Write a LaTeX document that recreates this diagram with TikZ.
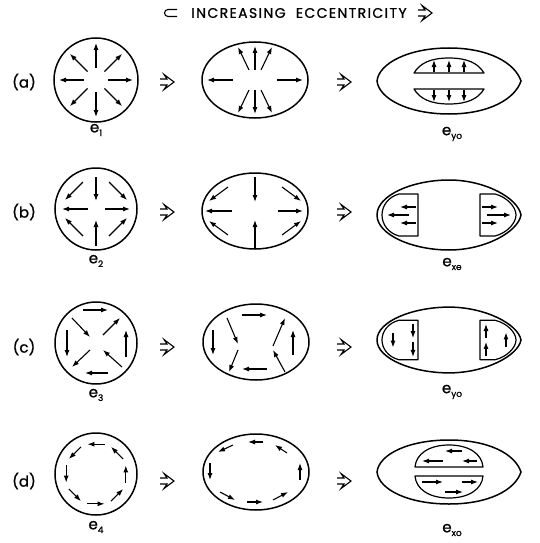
\documentclass[tikz,border=0pt]{standalone}
\usepackage{fontspec}
\setmainfont{Poppins}[FakeBold=1]
\usepackage{tikz}
\usetikzlibrary{arrows.meta}
\newcommand{\esub}[1]{e\raisebox{-0.45ex}{\fontsize{9}{9}\selectfont #1}}
\newcommand{\eggshell}{(-72,0) .. controls (-72,20) and (-36,35) .. (0,35) .. controls (36,35) and (69,17) .. (72,0) .. controls (69,-17) and (36,-35) .. (0,-35) .. controls (-36,-35) and (-72,-20) .. (-72,0) -- cycle}
\newcommand{\lensshell}[1]{(-72,0) .. controls (-70,18) and (-40,#1) .. (0,#1) .. controls (40,#1) and (66,18) .. (72,0) .. controls (66,-18) and (40,-#1) .. (0,-#1) .. controls (-40,-#1) and (-70,-18) .. (-72,0) -- cycle}
\newcommand{\eggpockets}{%
  \draw[pocket] (-31,21) -- (-50,21) .. controls (-61,18) and (-67,9) .. (-67,0) .. controls (-67,-9) and (-61,-18) .. (-50,-21) -- (-31,-21) -- cycle;
  \draw[pocket] (31,21) -- (46,21) .. controls (58,18) and (67,8) .. (67,0) .. controls (67,-8) and (58,-18) .. (46,-21) -- (31,-21) -- cycle;}

\begin{document}
\begin{tikzpicture}[
    x=1pt, y=1pt,
    shell/.style={line width=1.5pt},
    pocket/.style={line width=1.2pt, line join=round},
    flow/.style={line width=1.1pt, -{Latex[length=7pt,width=5pt]}},
    tag/.style={font=\fontsize{15}{15}\selectfont},
    mode/.style={font=\fontsize{15}{15}\selectfont},
    harrow/.pic={\draw[line width=1.1pt, line join=miter] (-7,3) -- (0,3) -- (-3,7.5) -- (7,0) -- (-3,-7.5) -- (0,-3) -- (-7,-3);}
]
\useasboundingbox (0,0) rectangle (539,-543);

% heading
\draw[line width=1.1pt] (177,-9.5) -- (168,-9.5) arc (90:270:3.5) -- (177,-16.5);
\node[font=\fontsize{14}{14}\selectfont\addfontfeatures{LetterSpace=10}] (title) at (299,-13) {INCREASING\ \ ECCENTRICITY};
\pic at (425,-13) {harrow};

% row tags and transition arrows
\node[tag] (taga) at (24,-82) {(a)};
\node[tag] (tagb) at (24,-212) {(b)};
\node[tag] (tagc) at (24,-347) {(c)};
\node[tag] (tagd) at (24,-481) {(d)};
\foreach \y in {-82,-212,-347,-481} {
    \pic at (167,\y) {harrow};
    \pic at (344,\y) {harrow};
}

% mode names
\node[mode] (e1) at (96,-130) {\esub{1}};
\node[mode] (e2) at (96,-261) {\esub{2}};
\node[mode] (e3) at (96,-395) {\esub{3}};
\node[mode] (e4) at (96,-527) {\esub{4}};
\node[mode] (eyoa) at (452,-134) {\esub{yo}};
\node[mode] (exe) at (452,-264) {\esub{xe}};
\node[mode] (eyoc) at (452,-392) {\esub{yo}};
\node[mode] (exo) at (452,-530) {\esub{xo}};

% (a)
\begin{scope}[shift={(96,-80)}]
    \draw[shell] (0,0) circle (42);
    \foreach \a in {0,45,...,315} \draw[flow] (\a:12) -- (\a:37);
\end{scope}
\begin{scope}[shift={(255,-80)}]
    \draw[shell] (0,0) ellipse (53 and 38);
    \draw[flow] (-22,0) -- (-48,0);
    \draw[flow] (22,0) -- (48,0);
    \foreach \s in {-1,1} {
        \draw[flow] (0,10*\s) -- (0,34*\s);
        \draw[flow] (-6,10*\s) -- (-17,33*\s);
        \draw[flow] (6,10*\s) -- (17,33*\s);
    }
\end{scope}
\begin{scope}[shift={(449,-81)}]
    \draw[shell] \lensshell{33};
    \draw[pocket] (-35,8) .. controls (-29,18) and (-18,23) .. (0,23) .. controls (18,23) and (29,18) .. (35,8) -- cycle;
    \draw[pocket] (-35,-8) .. controls (-29,-18) and (-18,-23) .. (0,-23) .. controls (18,-23) and (29,-18) .. (35,-8) -- cycle;
    \foreach \x in {-15,0,15} {
        \draw[flow] (\x,9) -- (\x,21);
        \draw[flow] (\x,-9) -- (\x,-21);
    }
\end{scope}

% (b)
\begin{scope}[shift={(96,-209)}]
    \draw[shell] (0,0) circle (41);
    \draw[flow] (0,32) -- (0,8);
    \draw[flow] (0,-37) -- (0,-11);
    \draw[flow] (-8,0) -- (-34,0);
    \draw[flow] (9,0) -- (34,0);
    \foreach \sx in {-1,1} \foreach \sy in {-1,1}
        \draw[flow] (13*\sx,27*\sy) -- (31*\sx,9*\sy);
\end{scope}
\begin{scope}[shift={(255,-211)}]
    \draw[shell] (0,0) ellipse (53 and 38);
    \draw[flow] (0,34) -- (0,9);
    \draw[flow] (0,-37) -- (0,-9);
    \draw[flow] (-23,0) -- (-50,0);
    \draw[flow] (23,0) -- (48,0);
    \foreach \sx in {-1,1} \foreach \sy in {-1,1}
        \draw[flow] (27*\sx,24*\sy) -- (46*\sx,10*\sy);
\end{scope}
\begin{scope}[shift={(449,-215)}]
    \draw[shell] \eggshell;
    \eggpockets
    \draw[flow] (-33,8) -- (-49,8);
    \draw[flow] (-40,0) -- (-62,0);
    \draw[flow] (-33,-8) -- (-49,-8);
    \draw[flow] (33,8) -- (49,8);
    \draw[flow] (38,0) -- (62,0);
    \draw[flow] (33,-8) -- (49,-8);
\end{scope}

% (c)
\begin{scope}[shift={(96,-343)}]
    \draw[shell] (0,0) circle (41);
    \draw[flow] (-13,33) -- (12,33);
    \draw[flow] (12,-30) -- (-11,-30);
    \draw[flow] (-29,13) -- (-29,-14);
    \draw[flow] (30,-14) -- (30,13);
    \draw[flow] (-24,25) -- (-6,6);
    \draw[flow] (7,8) -- (24,25);
    \draw[flow] (-6,-7) -- (-24,-24);
    \draw[flow] (26,-24) -- (7,-7);
\end{scope}
\begin{scope}[shift={(256,-342)}]
    \draw[shell] (0,0) ellipse (53 and 38);
    \draw[flow] (-14,27) -- (11,27);
    \draw[flow] (11,-27) -- (-14,-27);
    \draw[flow] (-43,12) -- (-43,-13);
    \draw[flow] (37,-13) -- (37,12);
    \draw[flow] (-29,24) -- (-18,-2);
    \draw[flow] (-18,-8) -- (-27,-30);
    \draw[flow] (17,-4) -- (29,24);
    \draw[flow] (29,-30) -- (17,-8);
\end{scope}
\begin{scope}[shift={(449,-340)}, yscale=0.94]
    \draw[shell] \eggshell;
    \eggpockets
    \draw[flow] (-56,7) -- (-56,-8);
    \draw[flow] (-36,17) -- (-36,2);
    \draw[flow] (-36,-2) -- (-36,-18);
    \draw[flow] (57,-7) -- (57,8);
    \draw[flow] (37,-17) -- (37,-2);
    \draw[flow] (37,2) -- (37,17);
\end{scope}

% (d)
\begin{scope}[shift={(96,-474)}]
    \draw[shell] (0,0) circle (41);
    \foreach \a in {0,45,...,315} \draw[flow] (\a-16:31) -- (\a+16:31);
\end{scope}
\begin{scope}[shift={(256,-472)}]
    \draw[shell] (0,0) ellipse (53 and 38);
    \draw[flow] (7,30) -- (-8,30);
    \draw[flow] (-23,27) -- (-38,20);
    \draw[flow] (31,19) -- (19,27);
    \draw[flow] (-46,9) -- (-46,-8);
    \draw[flow] (44,-8) -- (44,9);
    \draw[flow] (-36,-20) -- (-21,-28);
    \draw[flow] (-9,-30) -- (7,-30);
    \draw[flow] (17,-28) -- (32,-20);
\end{scope}
\begin{scope}[shift={(449,-472)}]
    \draw[shell] \lensshell{32};
    \draw[pocket] (-34,5) .. controls (-33,18) and (-20,27) .. (0,27) .. controls (20,27) and (33,18) .. (34,5) -- cycle;
    \draw[pocket] (-34,-4) .. controls (-33,-17) and (-20,-26) .. (0,-26) .. controls (20,-26) and (33,-17) .. (34,-4) -- cycle;
    \draw[flow] (13,21) -- (-4,21);
    \draw[flow] (-6,11) -- (-27,11);
    \draw[flow] (28,11) -- (13,11);
    \draw[flow] (-27,-10) -- (-6,-10);
    \draw[flow] (13,-10) -- (29,-10);
    \draw[flow] (-4,-20) -- (14,-20);
\end{scope}
\end{tikzpicture}
\end{document}
